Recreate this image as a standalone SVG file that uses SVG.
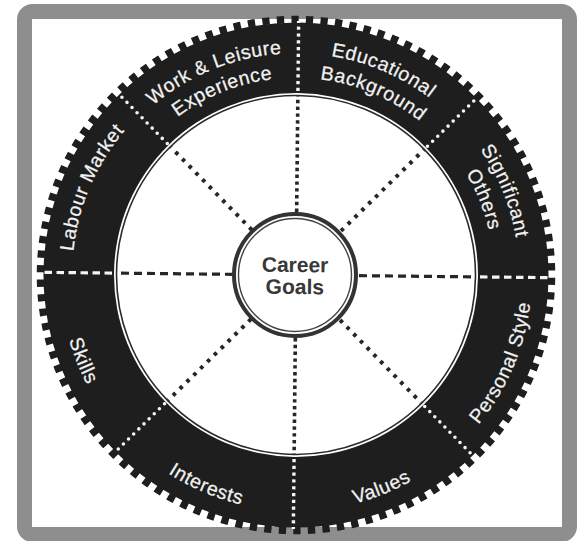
<svg xmlns="http://www.w3.org/2000/svg" width="580" height="541" viewBox="0 0 580 541">
<style>
.lbl{font-family:"Liberation Sans",Arial,sans-serif;font-size:19.5px;fill:#f2f2f2;letter-spacing:0.6px;stroke:#f2f2f2;stroke-width:0.25px}
.ctr{font-family:"Liberation Sans",Arial,sans-serif;font-size:21px;font-weight:bold;fill:#383838}
.dots{stroke:#262626;stroke-width:3.6;stroke-dasharray:3.4 3.4;fill:none}
.ddots{stroke:#262626;stroke-width:4;stroke-dasharray:3.6 6;fill:none}
.dash{stroke:#262626;stroke-width:3.2;stroke-dasharray:8 5;fill:none}
.wdots{stroke:#f4f4f4;stroke-width:3.4;stroke-dasharray:3.2 3.6;fill:none}
.wddots{stroke:#f4f4f4;stroke-width:3.6;stroke-dasharray:0 7.2;stroke-linecap:round;fill:none}
.wdash{stroke:#f4f4f4;stroke-width:3.2;stroke-dasharray:7.5 4.5;fill:none}
</style>
<defs>
<path id="pLabour" d="M82.37,342.36 A224,224 0 0 1 192.57,76.31"/>
<path id="pWork1" d="M99.08,172.49 A223,223 0 0 1 362.76,63.27"/>
<path id="pWork2" d="M121.27,183.11 A197,197 0 0 1 355.24,87.12"/>
<path id="pEdu1" d="M229.24,63.27 A223,223 0 0 1 492.92,172.49"/>
<path id="pEdu2" d="M236.76,87.12 A197,197 0 0 1 470.73,183.11"/>
<path id="pSig1" d="M398.97,77.20 A223,223 0 0 1 508.68,342.06"/>
<path id="pSig2" d="M387.43,99.38 A198,198 0 0 1 484.84,334.54"/>
<path id="pPers" d="M404.97,484.33 A236,236 0 0 0 521.08,204.03"/>
<path id="pVal" d="M225.03,500.08 A236,236 0 0 0 505.33,383.97"/>
<path id="pInt" d="M86.67,383.97 A236,236 0 0 0 366.97,500.08"/>
<path id="pSkl" d="M70.92,204.03 A236,236 0 0 0 187.03,484.33"/>
</defs>
<rect x="0" y="0" width="580" height="541" fill="#ffffff"/>
<rect id="frame" x="24.5" y="11.5" width="545" height="523" rx="8" fill="none" stroke="#8e8e8e" stroke-width="15"/>
<g transform="rotate(0.6 296 275)">
<g id="wheel">
<circle cx="296" cy="275" r="252.5" fill="#1e1e1e"/>
<circle cx="296" cy="275" r="255.5" fill="none" stroke="#1e1e1e" stroke-width="7.5" pathLength="220" stroke-dasharray="1 1"/>
<circle cx="296" cy="275" r="182" fill="#ffffff"/>
<circle cx="296" cy="275" r="179.5" fill="none" stroke="#2a2a2a" stroke-width="1.6"/>
</g>
<g id="connectors">
<line class="dots" x1="296" y1="212" x2="296" y2="96"/>
<line class="dots" x1="296" y1="338" x2="296" y2="454"/>
<line class="dash" x1="233" y1="275" x2="117" y2="275"/>
<line class="dash" x1="359" y1="275" x2="475" y2="275"/>
<line class="ddots" x1="251.45" y1="230.45" x2="169.43" y2="148.43"/>
<line class="ddots" x1="340.55" y1="230.45" x2="422.57" y2="148.43"/>
<line class="ddots" x1="251.45" y1="319.55" x2="169.43" y2="401.57"/>
<line class="ddots" x1="340.55" y1="319.55" x2="422.57" y2="401.57"/>
<line class="wdots" x1="296" y1="91" x2="296" y2="21"/>
<line class="wdots" x1="296" y1="459" x2="296" y2="529"/>
<line class="wdash" x1="112" y1="275" x2="42" y2="275"/>
<line class="wdash" x1="480" y1="275" x2="550" y2="275"/>
<line class="wddots" x1="165.9" y1="144.9" x2="119" y2="98"/>
<line class="wddots" x1="426.1" y1="144.9" x2="473" y2="98"/>
<line class="wddots" x1="165.9" y1="405.1" x2="119" y2="452"/>
<line class="wddots" x1="426.1" y1="405.1" x2="473" y2="452"/>
</g>
<g id="labour-market"><text class="lbl"><textPath href="#pLabour" startOffset="50%" text-anchor="middle">Labour Market</textPath></text></g>
<g id="work-leisure"><text class="lbl"><textPath href="#pWork1" startOffset="50%" text-anchor="middle">Work &amp; Leisure</textPath></text><text class="lbl"><textPath href="#pWork2" startOffset="50%" text-anchor="middle">Experience</textPath></text></g>
<g id="educational"><text class="lbl"><textPath href="#pEdu1" startOffset="50%" text-anchor="middle">Educational</textPath></text><text class="lbl"><textPath href="#pEdu2" startOffset="50%" text-anchor="middle">Background</textPath></text></g>
<g id="significant"><text class="lbl"><textPath href="#pSig1" startOffset="50%" text-anchor="middle">Significant</textPath></text><text class="lbl"><textPath href="#pSig2" startOffset="50%" text-anchor="middle">Others</textPath></text></g>
<g id="personal-style"><text class="lbl"><textPath href="#pPers" startOffset="50%" text-anchor="middle">Personal Style</textPath></text></g>
<g id="values"><text class="lbl"><textPath href="#pVal" startOffset="50%" text-anchor="middle">Values</textPath></text></g>
<g id="interests"><text class="lbl"><textPath href="#pInt" startOffset="50%" text-anchor="middle">Interests</textPath></text></g>
<g id="skills"><text class="lbl"><textPath href="#pSkl" startOffset="50%" text-anchor="middle">Skills</textPath></text></g>
<g id="career-goals">
<circle cx="295" cy="275" r="61" fill="#ffffff" stroke="#333333" stroke-width="4"/>
<circle cx="295" cy="275" r="56.5" fill="none" stroke="#444444" stroke-width="1.4"/>
<text class="ctr" x="295" y="272" text-anchor="middle">Career</text>
<text class="ctr" x="295" y="294" text-anchor="middle">Goals</text>
</g>
</g>
</svg>
